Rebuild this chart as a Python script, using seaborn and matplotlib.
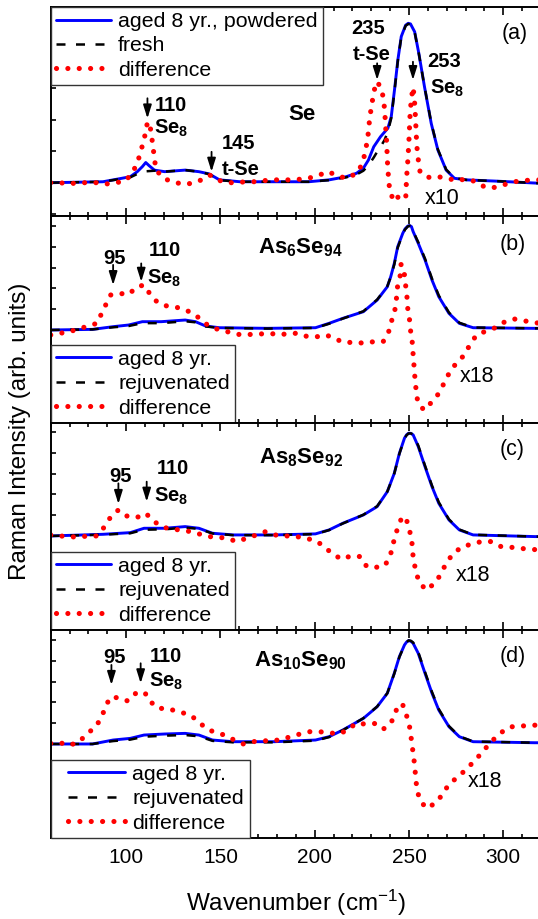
import matplotlib
matplotlib.use("Agg")
import matplotlib.pyplot as plt
from matplotlib.ticker import MultipleLocator
from matplotlib.lines import Line2D
from matplotlib.legend_handler import HandlerLine2D
import seaborn as sns

# ---------------------------------------------------------------------------
# Raman spectra (wavenumber in cm^-1, intensity in arbitrary units,
# one y unit = one tick interval of the panel).  The difference traces are
# already multiplied by the factor written next to them (x10 / x18).
# ---------------------------------------------------------------------------

# (a) Se
se_aged_x = [60, 87.7, 95, 102.2, 105.9, 108.6, 110.4, 112.2, 115, 120.4, 131.3, 138.6, 144,
             149.5, 160.4, 178.6, 196.7, 207.6, 216.7, 222.2, 225.8, 228.5, 231.3, 234.9,
             238.8, 240.6, 242.3, 244.1, 245.9, 248.2, 249.6, 250.8, 253, 255.2, 258.2, 261.8,
             265.3, 269.7, 274.1, 280.3, 296.2, 320]
se_aged_y = [0, 0.03, 0.11, 0.19, 0.35, 0.51, 0.64, 0.54, 0.40, 0.35, 0.40, 0.35, 0.28,
             0.09, 0.03, 0.03, 0.03, 0.09, 0.19, 0.30, 0.46, 0.72, 1.14, 1.46,
             1.73, 2.10, 2.94, 3.90, 4.64, 5.00, 5.06, 5.04, 4.79, 4.11, 3.05, 1.88,
             1.04, 0.40, 0.14, 0.09, 0.05, -0.02]
se_fresh_x = [60, 87.7, 95, 102.2, 106, 110, 115, 120.4, 131.3, 138.6, 144, 149.5, 160.4,
              178.6, 196.7, 207.6, 216.7, 222.2, 225.8, 228.5, 231.3, 233.1, 234.9, 237,
              238.8, 240.6, 242.3, 244.1, 245.9, 248.2, 249.6, 250.8, 253, 255.2, 258.2, 261.8,
              265.3, 269.7, 274.1, 280.3, 296.2, 320]
se_fresh_y = [0, 0.03, 0.10, 0.17, 0.28, 0.36, 0.38, 0.35, 0.40, 0.35, 0.27, 0.08, 0.03,
              0.03, 0.03, 0.08, 0.17, 0.26, 0.38, 0.55, 0.80, 0.98, 1.14, 1.35,
              1.62, 2.05, 2.90, 3.88, 4.62, 4.98, 5.04, 5.02, 4.78, 4.10, 3.06, 1.90,
              1.06, 0.42, 0.15, 0.09, 0.05, -0.02]
se_diff_x = [60, 65, 69.5, 74.6, 79.5, 84.6, 89.5, 94.4, 99.5, 103.1, 105.9, 107.7, 109.5,
             111.0, 111.8, 113.1, 114.0, 114.9, 115.8, 120.4, 124.9, 130.0, 135.0, 140.0,
             144.4, 148.6, 153.1, 158.6, 163.1, 167.6, 172.2, 177.6, 182.2, 187.3, 192.2,
             196.7, 202.2, 207.3, 212.2, 217.1, 222.2, 224.9, 226.2, 227.3, 228.2, 228.7,
             229.4, 230.4, 231.3, 233.1, 234.9, 236.3, 237.1, 237.6, 238.2, 238.5, 239.1,
             239.8, 242.2, 245.8, 248.3, 248.7, 249.4, 249.9, 250.3, 250.6, 251.2, 252.1,
             252.8, 253.1, 253.5, 253.8, 254.2, 254.7, 255.2, 255.9, 260.9, 265.3, 270.6,
             275.0, 280.3, 285.6, 290.5, 295.3, 300.1, 305.6, 310.3, 315.3, 320]
se_diff_y = [0, 0, -0.04, 0, 0, 0, -0.04, 0, 0.05, 0.30, 0.61, 0.99, 1.36,
             1.83, 1.94, 1.67, 1.25, 0.83, 0.40, 0.12, 0.03, -0.05, -0.02, 0.09,
             0.24, 0.09, 0, 0, 0.03, 0.03, 0.06, 0.09, 0.09, 0.09, 0.11,
             0.14, 0.24, 0.35, 0.21, 0.14, 0.30, 0.56, 0.83, 1.14, 1.46, 1.78,
             2.15, 2.52, 2.89, 3.21, 3.03, 2.73, 2.31, 1.78, 1.25, 0.72, 0.19,
             -0.28, -0.60, -0.34, -0.44, 0.14, 0.72, 1.25, 1.78, 2.20, 2.63, 3.03,
             2.73, 2.41, 1.99, 1.57, 1.14, 0.83, 0.61, 0.33, 0.16, 0.19, 0.14,
             0.06, 0.12, 0.03, -0.15, -0.15, -0.07, 0.03, 0.06, 0.09, 0.09]

# (b) As6Se94
b_x = [60, 82.2, 93.1, 101.3, 108.6, 118.6, 131.3, 136.8, 142.2, 149.5, 174.9, 200.4,
       207.6, 214.9, 225.8, 233.1, 238.5, 240.3, 242.2, 244, 246.7, 247.9, 249.4, 250.4,
       251.3, 252.2, 254.9, 258.5, 262.2, 265.8, 271.2, 276.7, 284, 316.7, 320]
b_aged_y = [0, 0.03, 0.16, 0.24, 0.40, 0.40, 0.48, 0.40, 0.19, 0.11, 0.08, 0.11,
            0.32, 0.56, 0.88, 1.44, 2.08, 2.56, 3.20, 4.00, 4.65, 4.86, 5.00, 5.02,
            4.97, 4.73, 4.17, 3.37, 2.40, 1.60, 0.80, 0.32, 0.11, 0.08, 0.08]
b_rejuv_y = [0, 0.03, 0.13, 0.19, 0.33, 0.33, 0.42, 0.37, 0.17, 0.10, 0.07, 0.10,
             0.30, 0.55, 0.90, 1.46, 2.10, 2.55, 3.15, 3.95, 4.62, 4.83, 4.98, 5.01,
             4.97, 4.75, 4.22, 3.43, 2.47, 1.66, 0.84, 0.35, 0.12, 0.08, 0.08]
b_diff_x = [60, 65, 69.5, 74.6, 79.5, 84.6, 87.0, 89.3, 91.7, 96.4, 101.3, 105.8, 109.5,
            112.8, 116.8, 121.7, 126.8, 131.7, 136.8, 141.8, 146.7, 151.7, 156.7, 161.5,
            166.4, 171.3, 176.4, 181.3, 186.2, 191.3, 196.2, 201.3, 206.2, 211.3, 216.4,
            221.3, 226.2, 231.3, 236.3, 239.1, 240.3, 242.2, 243.1, 244.0, 245.4, 245.8,
            247.3, 248.0, 248.5, 249.1, 249.4, 250.3, 250.9, 251.8, 252.2, 252.7, 253.1,
            253.6, 254.0, 254.9, 258.0, 262.2, 265.8, 268.5, 271.2, 274.9, 279.4, 282.2,
            285.8, 290.9, 295.8, 300.9, 305.8, 310.9, 315.8, 320]
b_diff_y = [-0.24, -0.16, -0.08, 0.03, 0.19, 0.32, 0.80, 1.23, 1.68, 1.76, 1.71, 2.08, 2.16,
            1.71, 1.31, 1.15, 1.09, 0.96, 0.72, 0.32, 0.08, -0.03, -0.16, -0.24,
            -0.21, -0.19, -0.16, -0.24, -0.16, -0.16, -0.32, -0.32, -0.24, -0.45, -0.61,
            -0.58, -0.64, -0.56, -0.56, -0.13, 0.32, 0.80, 1.28, 2.16, 2.64, 3.16,
            2.88, 2.32, 1.92, 1.44, 0.96, 0.48, -0.08, -0.64, -1.20, -1.77, -2.25,
            -2.73, -3.13, -3.53, -3.85, -3.45, -3.05, -2.57, -2.09, -1.61, -1.20, -0.72,
            -0.24, -0.05, 0.11, 0.40, 0.53, 0.45, 0.35, 0.33]

# (c) As8Se92
c_x = [60, 87.7, 102.2, 109.5, 120.4, 131.3, 138.6, 145.8, 156.7, 178.6, 200.4, 207.6,
       214.9, 225.8, 233.1, 238.5, 242.2, 244.9, 247.6, 248.7, 249.8, 251.0, 252.2, 254.9,
       258.5, 262.2, 265.8, 271.2, 276.7, 284, 316.7, 320]
c_aged_y = [0, 0.08, 0.16, 0.37, 0.37, 0.45, 0.37, 0.13, 0.05, 0.05, 0.10, 0.29,
            0.61, 1.01, 1.41, 2.13, 3.01, 3.97, 4.70, 4.86, 4.94, 4.93, 4.86, 4.30,
            3.33, 2.37, 1.57, 0.77, 0.29, 0.05, -0.03, -0.03]
c_rejuv_y = [0, 0.06, 0.13, 0.30, 0.32, 0.40, 0.34, 0.12, 0.04, 0.04, 0.09, 0.28,
             0.60, 1.02, 1.43, 2.13, 3.00, 3.95, 4.68, 4.84, 4.93, 4.93, 4.88, 4.35,
             3.38, 2.42, 1.62, 0.80, 0.31, 0.06, -0.03, -0.03]
c_diff_x = [60, 65, 69.5, 74.6, 79.5, 84.6, 88.6, 91.7, 95.9, 100.4, 105.5, 110.4, 114.6,
            118.6, 124.0, 129.1, 134.0, 138.6, 144.0, 148.6, 153.5, 158.6, 164.0, 169.1,
            174.0, 178.9, 184.0, 189.1, 194.5, 199.5, 204.0, 209.5, 214.4, 219.1, 224.0,
            227.6, 232.2, 237.1, 239.4, 241.3, 242.2, 244.0, 245.8, 248.3, 249.6, 251.0,
            251.7, 252.1, 252.8, 253.8, 255.6, 259.1, 264.1, 267.1, 269.7, 273.2, 278.2,
            283.5, 288.3, 293.5, 298.8, 303.8, 308.6, 313.9, 320]
c_diff_y = [0.05, 0, -0.03, -0.06, 0, 0, 0.45, 0.90, 1.25, 0.96, 0.88, 1.09, 0.72,
            0.45, 0.32, 0.29, 0.21, 0.10, -0.03, -0.06, -0.11, -0.27, -0.11, 0.05,
            0.21, 0.05, 0, 0, -0.11, -0.19, -0.43, -0.87, -1.12, -0.96, -0.99,
            -1.47, -1.51, -1.44, -1.07, -0.59, -0.11, 0.37, 0.80, 0.93, 0.45, 0.03,
            -0.43, -0.91, -1.31, -1.79, -2.24, -2.60, -2.24, -1.79, -1.31, -0.87, -0.51,
            -0.39, -0.27, -0.27, -0.51, -0.54, -0.59, -0.64, -0.67]

# (d) As10Se90
d_x = [60, 82.2, 93.1, 102.2, 109.5, 120.4, 131.3, 138.6, 145.8, 156.7, 178.6, 200.4,
       207.6, 214.9, 225.8, 233.1, 238.5, 242.2, 244.9, 247.6, 248.7, 249.8, 251.0, 252.2,
       254.9, 258.5, 262.2, 265.8, 271.2, 276.7, 284, 316.7, 320]
d_aged_y = [0, 0, 0.19, 0.27, 0.43, 0.48, 0.51, 0.43, 0.19, 0.11, 0.11, 0.19,
            0.35, 0.67, 1.23, 1.79, 2.44, 3.40, 4.20, 4.76, 4.90, 4.97, 4.94, 4.84,
            4.36, 3.40, 2.44, 1.63, 0.83, 0.35, 0.11, 0.06, 0.06]
d_rejuv_y = [0, 0, 0.14, 0.21, 0.35, 0.40, 0.43, 0.37, 0.15, 0.08, 0.08, 0.16,
             0.33, 0.66, 1.24, 1.80, 2.44, 3.38, 4.18, 4.75, 4.89, 4.98, 4.96, 4.88,
             4.42, 3.46, 2.50, 1.68, 0.86, 0.37, 0.12, 0.06, 0.06]
d_diff_x = [60, 65, 69.5, 74.6, 79.5, 84.0, 86.8, 89.1, 91.3, 95.9, 100.8, 105.5, 109.9,
            112.8, 117.1, 122.2, 127.3, 132.8, 137.7, 142.2, 147.3, 152.2, 157.3, 162.2,
            167.3, 172.2, 177.3, 182.2, 187.3, 192.2, 197.3, 202.2, 207.3, 212.2, 217.1,
            221.8, 226.7, 231.6, 236.3, 240.3, 242.7, 244.0, 246.7, 248.5, 250.3, 251.3,
            252.2, 253.1, 253.6, 254.5, 255.8, 259.1, 264.0, 268.0, 271.2, 275.8, 280.3,
            284.9, 289.1, 293.1, 297.6, 302.7, 307.6, 312.7, 317.6, 320]
d_diff_y = [0.03, 0.06, -0.06, 0.06, 0.51, 0.83, 1.28, 1.76, 2.23, 2.23, 2.07, 2.47, 2.47,
            2.04, 1.71, 1.71, 1.55, 1.44, 1.15, 0.75, 0.55, 0.43, 0.19, 0,
            0.11, 0.16, 0.14, 0.22, 0.35, 0.48, 0.59, 0.59, 0.55, 0.48, 0.64,
            0.99, 0.96, 0.99, 0.71, 0.99, 1.44, 1.88, 1.88, 1.44, 0.83, 0.19,
            -0.45, -1.09, -1.73, -2.29, -2.69, -3.09, -2.85, -2.40, -1.92, -1.60, -1.22,
            -0.80, -0.37, 0.06, 0.46, 0.80, 0.87, 0.87, 0.91, 0.91]

x_ticks = [100, 150, 200, 250, 300]
legend_a = ["aged 8 yr., powdered", "fresh", "difference"]
legend_bcd = ["aged 8 yr.", "rejuvenated", "difference"]

# ---------------------------------------------------------------------------
sns.set_theme(style="ticks")
plt.rcParams.update({
    "font.family": ["Liberation Sans", "DejaVu Sans"],
    "mathtext.fontset": "custom",
    "mathtext.rm": "Liberation Sans",
    "mathtext.bf": "Liberation Sans:bold",
    "mathtext.it": "Liberation Sans:italic",
    "axes.linewidth": 1.4,
    "axes.edgecolor": "black",
    "xtick.color": "black",
    "ytick.color": "black",
    "text.color": "black",
})

BLUE = "#0000ff"
RED = "#ff0000"
W, H = 538, 919

fig = plt.figure(figsize=(W / 100, H / 100), dpi=100)


def axes_at(top, bottom, left=50.7, right=541.0):
    return fig.add_axes([left / W, 1 - bottom / H, (right - left) / W, (bottom - top) / H])


def draw_spectra(ax, aged, ref, diff, labels):
    sns.lineplot(x=aged[0], y=aged[1], ax=ax, color=BLUE, linewidth=2.1,
                 estimator=None, sort=False, legend=False, label=labels[0])
    sns.lineplot(x=ref[0], y=ref[1], ax=ax, color="black", linewidth=1.8,
                 linestyle=(0, (3.6, 4.2)), estimator=None, sort=False,
                 legend=False, label=labels[1])
    sns.lineplot(x=diff[0], y=diff[1], ax=ax, color=RED, linewidth=3.7,
                 linestyle=(0, (0.01, 2.2)), dash_capstyle="round",
                 estimator=None, sort=False, legend=False, label=labels[2])


def style_axes(ax, ylim, bottom_labels=False):
    ax.set_xlim(60, 320)
    ax.set_ylim(*ylim)
    ax.xaxis.set_major_locator(MultipleLocator(50))
    ax.xaxis.set_minor_locator(MultipleLocator(10))
    ax.yaxis.set_major_locator(MultipleLocator(1))
    ax.tick_params(axis="x", which="major", direction="in", top=True, bottom=True,
                   length=5.5, width=1.2, labelsize=15, pad=7,
                   labelbottom=bottom_labels)
    ax.tick_params(axis="x", which="minor", direction="in", top=True, bottom=True,
                   length=3.1, width=1.2)
    ax.tick_params(axis="y", which="major", direction="in", left=True, right=False,
                   length=3.8, width=1.2, labelleft=False)
    ax.set_xlabel("")
    ax.set_ylabel("")
    if bottom_labels:
        ax.set_xticks(x_ticks)


def add_legend(ax, labels, loc, anchor, handler_map=None, handlelength=2.57):
    leg = ax.legend(handles=ax.lines[:3], labels=labels, loc=loc,
                    bbox_to_anchor=anchor, borderaxespad=0, frameon=True,
                    fancybox=False, framealpha=1, edgecolor="#333333",
                    fontsize=15.4, handlelength=handlelength, handletextpad=0.33,
                    borderpad=0.25, labelspacing=0.25, handler_map=handler_map)
    leg.get_frame().set_linewidth(1.0)
    return leg


def arrow(ax, x, y0, y1):
    ax.annotate("", xy=(x, y1), xytext=(x, y0),
                arrowprops=dict(arrowstyle="-|>,head_length=0.8,head_width=0.25",
                                color="black", lw=1.3, shrinkA=0, shrinkB=0,
                                mutation_scale=10))


def bold(ax, x, y, s, size=14.5, ha="center"):
    ax.text(x, y, s, fontsize=size, fontweight="bold", ha=ha, va="baseline")


def plain(ax, x, y, s, va="baseline"):
    ax.text(x, y, s, fontsize=15.5, ha="center", va=va)


# ----- (a) Se -----
ax_a = axes_at(6.7, 216)
draw_spectra(ax_a, (se_aged_x, se_aged_y), (se_fresh_x, se_fresh_y),
             (se_diff_x, se_diff_y), legend_a)
style_axes(ax_a, (-1.057, 5.587))
add_legend(ax_a, legend_a, "upper left", (0, 1))
bold(ax_a, 123.5, 2.29, "110")
arrow(ax_a, 111.3, 2.68, 2.04)
bold(ax_a, 115, 1.57, r"$\mathbf{Se_8}$", ha="left")
bold(ax_a, 193.1, 2.0, "Se", size=16)
bold(ax_a, 159.8, 1.07, "145")
arrow(ax_a, 145.3, 0.98, 0.35)
bold(ax_a, 160.5, 0.23, "t-Se")
bold(ax_a, 228.5, 4.72, "235")
bold(ax_a, 230.4, 3.88, "t-Se")
arrow(ax_a, 233.1, 3.79, 3.26)
bold(ax_a, 268.8, 3.67, "253")
arrow(ax_a, 252.1, 3.84, 3.26)
bold(ax_a, 260.9, 2.82, r"$\mathbf{Se_8}$", ha="left")
plain(ax_a, 267.6, -0.68, "x10")
plain(ax_a, 305.9, 4.74, "(a)", va="center")

# ----- (b) As6Se94 -----
ax_b = axes_at(216, 423)
draw_spectra(ax_b, (b_x, b_aged_y), (b_x, b_rejuv_y), (b_diff_x, b_diff_y), legend_bcd)
style_axes(ax_b, (-4.47, 5.48))
add_legend(ax_b, legend_bcd, "lower left", (0, 0))
bold(ax_b, 94, 3.18, "95")
arrow(ax_b, 93.1, 3.13, 2.16)
bold(ax_b, 120.4, 3.58, "110")
arrow(ax_b, 108, 3.2, 2.32)
bold(ax_b, 111.3, 2.22, r"$\mathbf{Se_8}$", ha="left")
bold(ax_b, 192.2, 3.70, r"$\mathbf{As_6Se_{94}}$", size=16)
plain(ax_b, 304.9, 4.09, "(b)", va="center")
plain(ax_b, 285.8, -2.52, "x18")

# ----- (c) As8Se92 -----
ax_c = axes_at(423, 630)
draw_spectra(ax_c, (c_x, c_aged_y), (c_x, c_rejuv_y), (c_diff_x, c_diff_y), legend_bcd)
style_axes(ax_c, (-4.52, 5.43))
add_legend(ax_c, legend_bcd, "lower left", (0, 0))
bold(ax_c, 96.8, 2.59, "95")
arrow(ax_c, 95.9, 2.53, 1.54)
bold(ax_c, 125, 2.99, "110")
arrow(ax_c, 110.9, 2.61, 1.65)
bold(ax_c, 115, 1.63, r"$\mathbf{Se_8}$", ha="left")
bold(ax_c, 192.7, 3.51, r"$\mathbf{As_8Se_{92}}$", size=16)
plain(ax_c, 304.9, 4.15, "(c)", va="center")
plain(ax_c, 284, -2.15, "x18")

# ----- (d) As10Se90 -----
ax_d = axes_at(630, 838)
draw_spectra(ax_d, (d_x, d_aged_y), (d_x, d_rejuv_y), (d_diff_x, d_diff_y), legend_bcd)
style_axes(ax_d, (-4.52, 5.48), bottom_labels=True)
add_legend(ax_d, legend_bcd, "lower left", (0, 0),
           handler_map={Line2D: HandlerLine2D(xpad=0.58)}, handlelength=3.24)
bold(ax_d, 94, 3.88, "95")
arrow(ax_d, 92.2, 3.8, 2.84)
bold(ax_d, 121.3, 3.93, "110")
arrow(ax_d, 107.7, 3.88, 2.92)
bold(ax_d, 112.2, 2.73, r"$\mathbf{Se_8}$", ha="left")
bold(ax_d, 192.2, 3.74, r"$\mathbf{As_{10}Se_{90}}$", size=16)
plain(ax_d, 304.9, 4.2, "(d)", va="center")
plain(ax_d, 290.3, -2.05, "x18")

fig.text(296 / W, 1 - 903 / H, "Wavenumber (cm$^{-1}$)", fontsize=17.5,
         ha="center", va="center")
fig.text(20 / W, 1 - 431 / H, "Raman Intensity (arb. units)", fontsize=17.5,
         rotation=90, ha="center", va="center")

fig.savefig("out.png", dpi=100)
